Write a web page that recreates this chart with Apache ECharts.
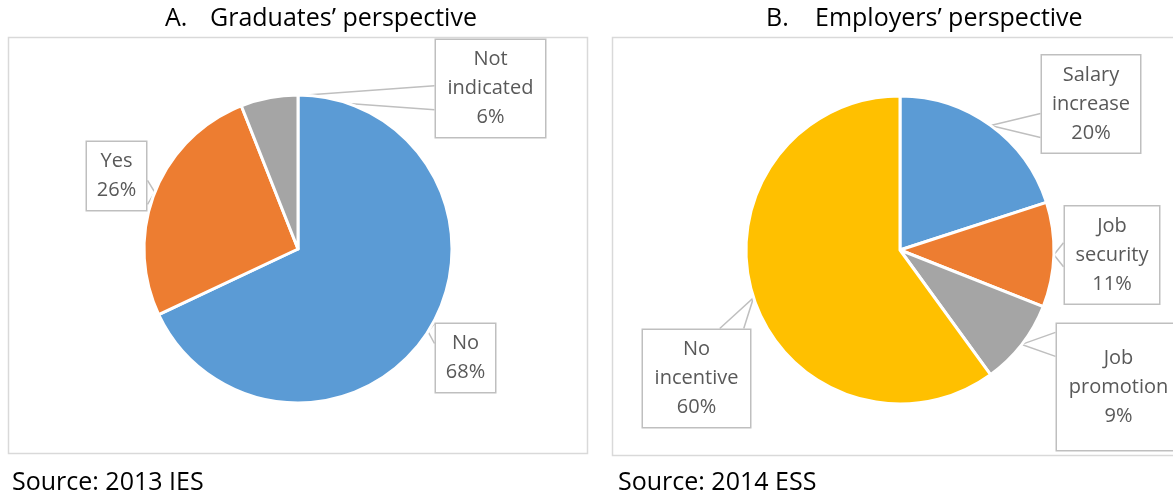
<!DOCTYPE html>
<html>
<head>
<meta charset="utf-8">
<script src="https://cdn.jsdelivr.net/npm/echarts@6/dist/echarts.min.js"></script>
<style>
html,body{margin:0;padding:0;background:#fff;}
#chart{width:1173px;height:497px;}
</style>
</head>
<body>
<div id="chart"></div>
<script>
// ---- data ----
const titleLetterA = 'A.';
const titleTextA = 'Graduates\u2019 perspective';
const titleLetterB = 'B.';
const titleTextB = 'Employers\u2019 perspective';
const sourceA = 'Source: 2013 IES';
const sourceB = 'Source: 2014 ESS';

const categoriesA = ['No', 'Yes', 'Not indicated'];
const valuesA = [68, 26, 6];

const categoriesB = ['Salary increase', 'Job security', 'Job promotion', 'No incentive'];
const valuesB = [20, 11, 9, 60];

// ---- styles / layout (not data) ----
const colorsA = ['#5B9BD5', '#ED7D31', '#A5A5A5'];
const colorsB = ['#5B9BD5', '#ED7D31', '#A5A5A5', '#FFC000'];
// label box centres and sizes (content width, padding)
const labelPosA = [[465.5, 358], [116.5, 176], [490.5, 88.5]];
const labelWidthA = [43, 43, 93];
const labelPadA = [[5, 8], [5, 8], [5, 8]];
const labelPosB = [[1091, 104], [1112, 255], [1118.5, 387], [696.5, 378.5]];
const labelWidthB = [82, 78, 107, 91];
const labelPadB = [[5, 8], [5, 8], [19.5, 8], [5, 8]];

const FONT = '"Open Sans", Lato, sans-serif';
const WEDGE = 12;

function buildData(cats, vals, colors, widths, pads) {
  return cats.map((c, i) => ({
    name: c,
    value: vals[i],
    itemStyle: { color: colors[i] },
    label: { width: widths[i], padding: pads[i] }
  }));
}

const labelStyle = {
  show: true,
  position: 'outside',
  formatter: p => p.name.replace(/ /g, '\n') + '\n' + p.value + '%',
  color: '#595959',
  fontFamily: FONT,
  fontSize: 20,
  lineHeight: 29,
  align: 'center',
  backgroundColor: '#ffffff',
  borderColor: '#bfbfbf',
  borderWidth: 1.5
};
const labelLineStyle = {
  show: true,
  length: 10,
  length2: 0,
  smooth: false,
  lineStyle: { color: '#bfbfbf', width: 1.5 }
};

// place each callout box and draw a wedge-shaped pointer from the box edge
// to the slice anchor point that ECharts computed
function layoutFn(pos) {
  return function (p) {
    const c = pos[p.dataIndex];
    const w = p.labelRect.width, h = p.labelRect.height;
    const x0 = c[0] - w / 2, x1 = c[0] + w / 2, y0 = c[1] - h / 2, y1 = c[1] + h / 2;
    const out = { x: c[0], y: c[1], align: 'center', verticalAlign: 'middle' };
    const a = p.labelLinePoints && p.labelLinePoints[0];
    if (!a) return out;
    const outX = a[0] < x0 || a[0] > x1;
    const outY = a[1] < y0 || a[1] > y1;
    let ex = Math.min(Math.max(a[0], x0), x1);
    let ey = Math.min(Math.max(a[1], y0), y1);
    let vertical = outX && !outY;
    if (outX && outY) {
      const edgeX = a[0] < x0 ? x0 : x1;
      const t = (edgeX - a[0]) / (c[0] - a[0]);
      const yy = a[1] + t * (c[1] - a[1]);
      if (yy >= y0 && yy <= y1) { ex = edgeX; ey = yy; vertical = true; }
      else {
        const edgeY = a[1] < y0 ? y0 : y1;
        const t2 = (edgeY - a[1]) / (c[1] - a[1]);
        ex = a[0] + t2 * (c[0] - a[0]); ey = edgeY; vertical = false;
      }
    }
    let pts;
    if (vertical) {
      const ya = Math.max(ey - WEDGE, y0 + 1), yb = Math.min(ey + WEDGE, y1 - 1);
      pts = [[ex, ya], [a[0], a[1]], [ex, yb]];
    } else {
      const xa = Math.max(ex - WEDGE, x0 + 1), xb = Math.min(ex + WEDGE, x1 - 1);
      pts = [[xa, ey], [a[0], a[1]], [xb, ey]];
    }
    out.labelLinePoints = pts;
    return out;
  };
}

const chart = echarts.init(document.getElementById('chart'), null, { renderer: 'canvas' });

const titleFont = { fontFamily: FONT, fontSize: 25, fontWeight: 'normal', color: '#000' };
const sourceFont = { fontFamily: FONT, fontSize: 25, fontWeight: 'normal', color: '#000' };

chart.setOption({
  animation: false,
  backgroundColor: '#ffffff',
  title: [
    { text: titleLetterA, left: 160, top: 1, textStyle: titleFont },
    { text: titleTextA, left: 205, top: 1, textStyle: titleFont },
    { text: titleLetterB, left: 761, top: 1, textStyle: titleFont },
    { text: titleTextB, left: 810, top: 1, textStyle: titleFont }
    ,{ text: sourceA, left: 7, top: 465, textStyle: sourceFont },
    { text: sourceB, left: 613, top: 465, textStyle: sourceFont }
  ],
  graphic: [
    { type: 'rect', z: -10, shape: { x: 8.5, y: 37.5, width: 579, height: 416 },
      style: { fill: '#fff', stroke: '#d9d9d9', lineWidth: 1.5 } },
    { type: 'rect', z: -10, shape: { x: 612.5, y: 37.5, width: 570, height: 418 },
      style: { fill: '#fff', stroke: '#d9d9d9', lineWidth: 1.5 } }
  ],
  series: [
    {
      type: 'pie',
      center: [298, 249],
      radius: [0, 154],
      startAngle: 90,
      clockwise: true,
      avoidLabelOverlap: false,
      itemStyle: { borderColor: '#fff', borderWidth: 3 },
      label: labelStyle,
      labelLine: labelLineStyle,
      labelLayout: layoutFn(labelPosA),
      emphasis: { disabled: true },
      data: buildData(categoriesA, valuesA, colorsA, labelWidthA, labelPadA)
    },
    {
      type: 'pie',
      center: [900, 250],
      radius: [0, 154],
      startAngle: 90,
      clockwise: true,
      avoidLabelOverlap: false,
      itemStyle: { borderColor: '#fff', borderWidth: 3 },
      label: labelStyle,
      labelLine: labelLineStyle,
      labelLayout: layoutFn(labelPosB),
      emphasis: { disabled: true },
      data: buildData(categoriesB, valuesB, colorsB, labelWidthB, labelPadB)
    }
  ]
});
</script>
</body>
</html>
